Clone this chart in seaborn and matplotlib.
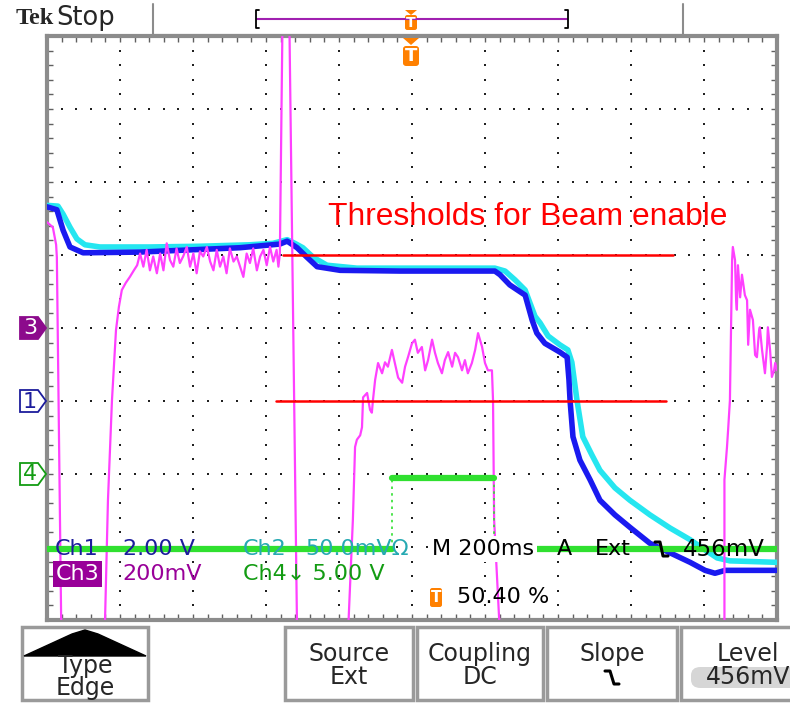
import numpy as np
import pandas as pd
import matplotlib
matplotlib.use("Agg")
import matplotlib.pyplot as plt
import seaborn as sns
from matplotlib.patches import Rectangle, Polygon, FancyBboxPatch
from matplotlib.lines import Line2D

# ---------------- data (time in ms, level in screen divisions, 0 = bottom) ----------------
ch1_t = [0, 27, 44, 63, 99, 255, 529, 638, 658, 685, 712, 740, 803, 967, 1227, 1241, 1268, 1310, 1329, 1342,
         1364, 1405, 1425, 1430, 1433, 1441, 1460, 1488, 1515, 1556, 1597, 1652, 1707, 1762, 1803, 1830, 1858, 2000]
ch1_v = [5.66, 5.62, 5.34, 5.11, 5.03, 5.04, 5.10, 5.15, 5.19, 5.10, 4.97, 4.84, 4.79, 4.78, 4.78, 4.73, 4.59, 4.45, 4.11, 3.93,
         3.79, 3.67, 3.60, 3.29, 3.01, 2.51, 2.19, 1.92, 1.64, 1.44, 1.27, 1.05, 0.92, 0.79, 0.68, 0.64, 0.68, 0.68]

ch2_t = [0, 30, 44, 63, 82, 104, 145, 282, 419, 556, 619, 658, 679, 701, 729, 767, 849, 967, 1227, 1255,
         1282, 1310, 1337, 1351, 1373, 1405, 1427, 1438, 1452, 1468, 1493, 1515, 1556, 1597, 1652, 1707, 1762, 1803, 1836, 1871, 2000]
ch2_v = [5.68, 5.67, 5.56, 5.38, 5.22, 5.14, 5.11, 5.11, 5.12, 5.14, 5.16, 5.21, 5.16, 5.10, 4.97, 4.86, 4.82, 4.82, 4.82, 4.78,
         4.66, 4.52, 4.16, 4.07, 3.89, 3.77, 3.70, 3.53, 3.01, 2.51, 2.26, 2.05, 1.81, 1.64, 1.44, 1.26, 1.10, 0.96, 0.85, 0.81, 0.79]

# Ch3 (magenta) pieces
ch3_a_t = [0, 16, 25, 27, 40]
ch3_a_v = [5.45, 5.38, 5.14, 4.97, -0.5]
ch3_b_t = [150, 159, 167, 178, 189, 197, 205, 216, 227, 238, 247,
           255, 264, 273, 282, 291, 301, 310, 319, 328, 337, 346, 355, 364, 373, 383, 392, 401, 410, 419, 428,
           438, 447, 456, 465, 474, 483, 492, 501, 511, 520, 529, 538, 547, 556, 565, 575, 584, 593, 602, 611,
           620, 629, 634, 638, 647, 662, 686]
ch3_b_v = [-0.5, 0.0, 1.64, 3.01, 3.97, 4.29, 4.52, 4.62, 4.70, 4.79, 4.86,
           5.02, 4.84, 5.07, 4.79, 4.98, 4.75, 5.02, 4.79, 5.16, 4.93, 4.84, 5.09, 4.89, 4.98, 5.11, 4.84, 5.02, 4.75, 5.05, 4.98,
           5.11, 4.91, 4.79, 5.07, 4.84, 4.98, 4.75, 5.09, 4.91, 4.98, 4.84, 4.70, 5.02, 4.89, 5.09, 4.79, 4.98, 5.07, 4.86, 5.11,
           4.91, 5.07, 4.84, 5.02, 9.0, 9.0, -0.5]
ch3_c_t = [822, 838, 844, 849, 858, 863, 866, 877, 885, 890, 893, 899, 907, 918, 926, 934, 945, 953, 962, 973,
           981, 989, 1000, 1008, 1016, 1027, 1036, 1044, 1055, 1063, 1071, 1082, 1090, 1099, 1110, 1118, 1126, 1137, 1145, 1153,
           1164, 1173, 1181, 1192, 1200, 1208, 1219, 1222, 1225, 1244]
ch3_c_v = [-0.5, 1.37, 2.37, 2.47, 2.53, 2.64, 3.05, 3.11, 2.88, 2.84, 3.01, 3.29, 3.52, 3.38, 3.53, 3.47, 3.70, 3.52, 3.32, 3.25,
           3.47, 3.60, 3.79, 3.84, 3.66, 3.74, 3.42, 3.56, 3.84, 3.66, 3.52, 3.38, 3.56, 3.67, 3.47, 3.66, 3.60, 3.42, 3.56, 3.38,
           3.52, 3.70, 3.93, 3.74, 3.52, 3.42, 3.42, 3.01, 1.37, -0.5]
ch3_d_t = [1856, 1856, 1858, 1863, 1866, 1871, 1874, 1877, 1879, 1885, 1888, 1890, 1893, 1899, 1904, 1912, 1918, 1921, 1926, 1934,
           1940, 1945, 1951, 1953, 1959, 1967, 1973, 1975, 1981, 1986, 1992, 1995, 2000]
ch3_d_v = [-0.5, 1.92, 2.05, 2.37, 2.60, 3.01, 3.97, 4.93, 5.11, 4.93, 4.38, 4.25, 4.86, 4.42, 4.73, 4.45, 4.38, 3.77, 4.25, 4.11,
           3.63, 3.60, 3.97, 4.01, 3.70, 3.38, 3.77, 4.01, 3.70, 3.33, 3.42, 3.52, 3.42]

# Ch4 (green) step signal
ch4_edges = [0, 945, 1224, 2000]
ch4_levels = [0.97, 1.95, 0.97]

# threshold lines
thr_levels = [5.0, 3.0]
thr_start = [647, 627]
thr_end = [1715, 1696]
thr_label = "Thresholds for Beam enable"

# ---------------- figure ----------------
W, H = 790, 703
sns.set_style("white")
plt.rcParams['font.family'] = ['DejaVu Sans']
fig = plt.figure(figsize=(W / 100, H / 100), dpi=100)
fig.patch.set_facecolor("white")


def P(x, y):
    return (x / W, 1 - y / H)


L, R, T, B = 47, 777, 36, 620
ax = fig.add_axes([L / W, 1 - B / H, (R - L) / W, (B - T) / H])
ax.set_xlim(0, 2000)
ax.set_ylim(0, 8)
ax.set_facecolor("white")
for s in ax.spines.values():
    s.set_color("#8c8c8c")
    s.set_linewidth(3)
ax.set_xticks(np.arange(0, 2001, 200))
ax.set_yticks(np.arange(0, 9, 1))
ax.set_xticks(np.arange(0, 2001, 40), minor=True)
ax.set_yticks(np.arange(0, 8.01, 0.2), minor=True)
ax.tick_params(which="both", direction="in", top=True, right=True, bottom=True, left=True,
               length=4, width=1, color="#606060", labelbottom=False, labelleft=False)

# graticule dots
gx = np.arange(200, 2000, 200)
gy = np.arange(1, 8, 1)
fine_y = np.arange(0, 8.01, 0.2)
fine_x = np.arange(0, 2001, 40)
for x in gx:
    ax.scatter(np.full_like(fine_y, x), fine_y, s=2.2, marker="s", color="#202020", linewidths=0, zorder=1)
for y in gy:
    ax.scatter(fine_x, np.full_like(fine_x, y, dtype=float), s=2.2, marker="s", color="#202020", linewidths=0, zorder=1)

# traces
sns.lineplot(x=ch2_t, y=ch2_v, ax=ax, color="#25e6f0", lw=4, sort=False, estimator=None, zorder=3)
sns.lineplot(x=ch1_t, y=ch1_v, ax=ax, color="#1a1af0", lw=4, sort=False, estimator=None, zorder=4)
for tt, vv in [(ch3_a_t, ch3_a_v), (ch3_b_t, ch3_b_v), (ch3_c_t, ch3_c_v), (ch3_d_t, ch3_d_v)]:
    sns.lineplot(x=tt, y=vv, ax=ax, color="#ff40ff", lw=1.6, sort=False, estimator=None, zorder=5)

for i, lev in enumerate(ch4_levels):
    sns.lineplot(x=[ch4_edges[i], ch4_edges[i + 1]], y=[lev, lev], ax=ax, color="#30e030", lw=4.5,
                 sort=False, estimator=None, zorder=6)
for i in range(1, len(ch4_edges) - 1):
    ax.plot([ch4_edges[i], ch4_edges[i]], [ch4_levels[i - 1], ch4_levels[i]], color="#30e030", lw=1.2,
            ls=(0, (1.5, 2.5)), zorder=6)

for lev, a, b in zip(thr_levels, thr_start, thr_end):
    sns.lineplot(x=[a, b], y=[lev, lev], ax=ax, color="#ff0000", lw=1.8, sort=False, estimator=None, zorder=7)
ax.text(770, 5.52, thr_label, color="#ff0000", fontsize=22.9, family=["Liberation Sans", "DejaVu Sans"],
        va="center", ha="left", zorder=8)
ax.set_xlabel("")
ax.set_ylabel("")

# ---------------- readouts inside graticule ----------------
fs = 16
fam = ["DejaVu Sans"]


def ftext(x, y, s, color="black", size=fs, **kw):
    fig.text(x / W, 1 - y / H, s, color=color, fontsize=size, family=kw.pop("family", fam),
             va="center", ha=kw.pop("ha", "left"), **kw)


ftext(55, 549, "Ch1", "#1c1c9c")
ftext(123, 549, "2.00 V", "#1c1c9c")
ftext(243, 549, "Ch2", "#26a9b2")
ftext(305, 549, "50.0mV\u03a9", "#26a9b2")
ftext(432, 549, "M 200ms", "black",
      bbox=dict(boxstyle="square,pad=0.12", facecolor="white", edgecolor="none"))
ftext(557, 549, "A", "black")
ftext(595, 549, "Ext", "black")
ftext(683, 549, "456mV", "black", size=16.5)
# falling slope symbol in readout
fig.add_artist(Line2D([655 / W, 660 / W, 663 / W, 668 / W],
                      [1 - 542 / H, 1 - 542 / H, 1 - 556 / H, 1 - 556 / H],
                      color="black", lw=2.2))

ftext(56, 574, "Ch3", "white",
      bbox=dict(boxstyle="square,pad=0.12", facecolor="#990099", edgecolor="none"))
ftext(122, 574, "200mV", "#990099")
ftext(243, 574, "Ch4\u2193 5.00 V", "#139c13")

fig.add_artist(FancyBboxPatch(P(430, 607), 12 / W, 19 / H, boxstyle="round,pad=0,rounding_size=0.003",
                              facecolor="#ff8000", edgecolor="none"))
ftext(436, 597, "T", "white", size=11, ha="center", fontweight="bold")
ftext(457, 597, "50.40 %", "black")

# channel markers on the left
def marker(yc, label, face, edge, txt):
    pts = [(20, yc - 11), (38, yc - 11), (46, yc), (38, yc + 11), (20, yc + 11)]
    fig.add_artist(Polygon([P(x, y) for x, y in pts], closed=True, facecolor=face, edgecolor=edge, lw=1.3))
    ftext(30, yc + 0.5, label, txt, size=16, ha="center")


marker(328, "3", "#8c0a8c", "#8c0a8c", "white")
marker(401, "1", "white", "#1c1c9c", "#1c1c9c")
marker(474, "4", "white", "#139c13", "#139c13")

# ---------------- header ----------------
fig.text(16 / W, 1 - 19 / H, "Tek", fontsize=17.5, fontweight="bold",
         family=["Liberation Serif", "DejaVu Serif"], va="center", ha="left")
fig.text(56 / W, 1 - 18 / H, "Stop", fontsize=18.5, family=fam, va="center", ha="left")
for xx in (153, 683):
    fig.add_artist(Line2D([xx / W, xx / W], [1 - 4 / H, 1 - 35 / H], color="#8c8c8c", lw=1.5))
fig.add_artist(Line2D([153 / W, 683 / W], [1 - 35 / H, 1 - 35 / H], color="#8c8c8c", lw=1.5))
fig.add_artist(Line2D([257 / W, 567 / W], [1 - 19 / H, 1 - 19 / H], color="#a020b0", lw=1.5))
fig.add_artist(Line2D([259 / W, 256 / W, 256 / W, 259 / W], [1 - 10 / H, 1 - 10 / H, 1 - 28 / H, 1 - 28 / H],
                      color="black", lw=1.3))
fig.add_artist(Line2D([565 / W, 568 / W, 568 / W, 565 / W], [1 - 10 / H, 1 - 10 / H, 1 - 28 / H, 1 - 28 / H],
                      color="black", lw=1.3))
# top trigger position marker
fig.add_artist(Polygon([P(405, 10), P(417, 10), P(411, 15)], closed=True, facecolor="#ff8000", edgecolor="none"))
fig.add_artist(FancyBboxPatch(P(405, 30), 12 / W, 15 / H, boxstyle="round,pad=0,rounding_size=0.003",
                              facecolor="#ff8000", edgecolor="none"))
fig.text(411 / W, 1 - 23 / H, "T", color="white", fontsize=10, fontweight="bold", ha="center", va="center")
# trigger marker below top edge
fig.add_artist(Polygon([P(403, 38), P(419, 38), P(411, 45)], closed=True, facecolor="#ff8000", edgecolor="none",
                       zorder=10))
fig.add_artist(FancyBboxPatch(P(403, 66), 16 / W, 20 / H, boxstyle="round,pad=0,rounding_size=0.004",
                              facecolor="#ff8000", edgecolor="none", zorder=10))
fig.text(411 / W, 1 - 56 / H, "T", color="white", fontsize=13, fontweight="bold", ha="center", va="center",
         zorder=11)

# ---------------- bottom menu buttons ----------------
btn_fs = 17
def button(x0, x1, l1, l2, pill=False, xc=None):
    fig.add_artist(Rectangle(P(x0, 700), (x1 - x0) / W, 73 / H, facecolor="white", edgecolor="#9a9a9a", lw=2.5))
    if xc is None:
        xc = (x0 + x1) / 2
    fig.text(xc / W, 1 - 654 / H, l1, fontsize=btn_fs, family=fam, ha="center", va="center")
    if pill:
        fig.add_artist(FancyBboxPatch(P(x0 + 10, 688), (x1 - x0) / W, 21 / H,
                                      boxstyle="round,pad=0,rounding_size=0.012",
                                      facecolor="#d6d6d6", edgecolor="none"))
    if l2:
        fig.text(xc / W, 1 - 677 / H, l2, fontsize=btn_fs, family=fam, ha="center", va="center")


fig.add_artist(Rectangle(P(22, 700), 126 / W, 73 / H, facecolor="white", edgecolor="#9a9a9a", lw=2.5))
fig.add_artist(Polygon([P(24, 656), P(72, 634), P(85, 630), P(98, 634), P(146, 656)], closed=True,
                       facecolor="black", edgecolor="black", lw=1))
fig.text(85 / W, 1 - 666 / H, "Type", fontsize=btn_fs, family=fam, ha="center", va="center")
fig.text(85 / W, 1 - 688 / H, "Edge", fontsize=btn_fs, family=fam, ha="center", va="center")

button(285, 413, "Source", "Ext")
button(417, 543, "Coupling", "DC")
button(547, 677, "Slope", None)
fig.add_artist(Line2D([605 / W, 610 / W, 614 / W, 619 / W],
                      [1 - 671 / H, 1 - 671 / H, 1 - 684 / H, 1 - 684 / H], color="black", lw=2.2))
button(681, 810, "Level", "456mV", pill=True, xc=748)

fig.savefig("out.png", dpi=100, facecolor="white")
